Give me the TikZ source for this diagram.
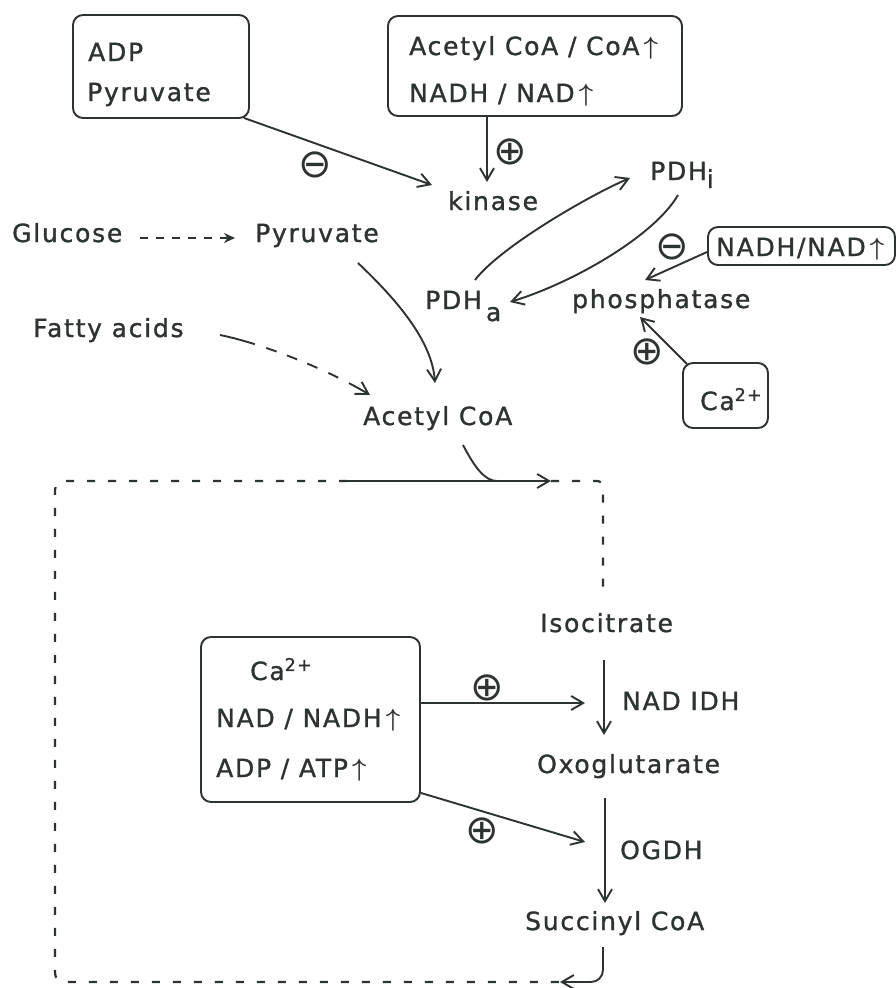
\documentclass[tikz,border=0pt]{standalone}
\usepackage{fontspec}
\setmainfont{DejaVu Sans}[LetterSpace=7, FakeBold=1.2]
\newfontfamily\signfont{DejaVu Sans}
\usetikzlibrary{arrows.meta}
\definecolor{ink}{RGB}{45,52,48}
\usepackage{amsmath}
\newcommand{\myup}{\,\raisebox{1pt}{$\boldsymbol{\uparrow}$}}
\begin{document}
\begin{tikzpicture}[x=1pt,y=-1pt,
  txt/.style={inner sep=0pt, anchor=base west, font=\fontsize{25}{28}\selectfont, text=ink},
  rbox/.style={draw=ink, rounded corners=10pt, inner sep=0pt, line width=1.9pt},
  arr/.style={draw=ink, line width=1.9pt, -{Straight Barb[length=12pt,width=14pt,line width=1.9pt]}},
  darr/.style={draw=ink, line width=2pt, dash pattern=on 8pt off 8pt, -{Stealth[length=11pt,width=10pt]}},
  plain/.style={draw=ink, line width=1.9pt},
  sign/.style={inner sep=0pt, font=\signfont\fontsize{40}{40}\selectfont, text=ink},
  cyc/.style={draw=ink, line width=2.2pt, dash pattern=on 8pt off 13pt}]
\useasboundingbox (0,0) rectangle (896,988);
\fill[white] (0,0) rectangle (896,988);

% boxes
\node[rbox, minimum width=176pt, minimum height=103pt] (b1) at (161,66.5) {};
\node[txt] (tadp) at (88,61) {ADP};
\node[txt] (tpyr) at (87,101) {Pyruvate};

\node[rbox, minimum width=294pt, minimum height=100pt] (b2) at (535,66) {};
\node[txt] (tacc) at (409,55) {Acetyl CoA / CoA\myup};
\node[txt] (tnad) at (409,102) {NADH / NAD\myup};

\node[rbox, minimum width=187pt, minimum height=38pt] (bn) at (801.5,246) {};
\node[txt] (tbn) at (716,256) {NADH/NAD\myup};

\node[rbox, minimum width=85pt, minimum height=65pt] (bca) at (725.5,395.5) {};
\node[txt] (tca) at (700,410) {Ca\textsuperscript{2+}};

\node[rbox, minimum width=219pt, minimum height=165pt] (bi) at (310.5,719.5) {};
\node[txt] (ica) at (250,680) {Ca\textsuperscript{2+}};
\node[txt] (inad) at (216,727) {NAD / NADH\myup};
\node[txt] (iadp) at (216,777) {ADP / ATP\myup};

% text nodes
\node[txt] (kinase) at (448,210) {kinase};
\node[txt] (PDHi) at (650,180) {PDH\raisebox{-8pt}{i}};
\node[txt] (PDHa) at (425,309) {PDH\,\raisebox{-12pt}{a}};
\node[txt] (glucose) at (12,242) {Glucose};
\node[txt] (pyr) at (255,242) {Pyruvate};
\node[txt] (fatty) at (33,337) {Fatty acids};
\node[txt] (acoa) at (363,425) {Acetyl CoA};
\node[txt] (phos) at (572,308) {phosphatase};
\node[txt] (iso) at (540,632) {Isocitrate};
\node[txt] (idh) at (622,710) {NAD IDH};
\node[txt] (oxo) at (537,773) {Oxoglutarate};
\node[txt] (ogdh) at (620,859) {OGDH};
\node[txt] (succ) at (525,930) {Succinyl CoA};

% signs
\node[sign] (s1) at (315,165) {⊖};
\node[sign] (s2) at (510,152) {⊕};
\node[sign] (s3) at (672,247) {⊖};
\node[sign] (s4) at (647,352) {⊕};
\node[sign] (s5) at (487,688) {⊕};
\node[sign] (s6) at (482,831) {⊕};

% top connectors
\draw[arr] ([shift={(-6,-1)}]b1.south east) -- ([shift={(-16,-25)}]kinase.base west);
\draw[arr] ([xshift=-48pt]b2.south) -- ([shift={(39,-28)}]kinase.base west);
\draw[arr] ([shift={(50,-29)}]PDHa.base west) .. controls (500,247) and (590,195) .. ([shift={(-20,-2)}]PDHi.base west);
\draw[arr] ([shift={(28,15)}]PDHi.base west) .. controls (655,235) and (575,282) .. ([shift={(85,-7)}]PDHa.base west);
\draw[arr] ([yshift=-6pt]bn.west) -- ([shift={(73,-28)}]phos.base west);
\draw[arr] ([shift={(5,2)}]bca.north west) -- ([shift={(68,9)}]phos.base west);
\draw[darr] ([shift={(128,-4)}]glucose.base west) -- ([shift={(-20,-4)}]pyr.base west);
\draw[arr] ([shift={(103,21)}]pyr.base west) .. controls (395,298) and (432,340) .. ([shift={(72,-42)}]acoa.base west);
\draw[arr, dash pattern=on 36pt off 12pt on 11pt off 11pt on 11pt off 11pt on 11pt off 12pt on 11pt off 12pt on 60pt]
  ([shift={(187,-2)}]fatty.base west) .. controls (260,343) and (325,368) .. ([shift={(7,-30)}]acoa.base west);

% cycle
\coordinate (c1) at (560,982);
\coordinate (c2) at (347,481);
\coordinate (c3) at (551,481);
\coordinate (cj) at (497,481);
\draw[cyc, rounded corners=9pt] (c2) -- (55,481) -- (55,982) -- (c1);
\draw[arr] (c2) -- (c3);
\draw[cyc, rounded corners=6pt] (c3) -- (603,481) -- ([shift={(63,-36)}]iso.base west);
\draw[plain] ([shift={(100,20)}]acoa.base west) .. controls (475,468) and (485,481) .. (cj);
\draw[arr, rounded corners=12pt] ([shift={(78,17)}]succ.base west) |- (c1);
\draw[arr] ([shift={(64,28)}]iso.base west) -- ([shift={(67,-38)}]oxo.base west);
\draw[arr] ([shift={(68,25)}]oxo.base west) -- ([shift={(80,-27)}]succ.base west);
\draw[arr] ([yshift=16.5pt]bi.east) -- ([shift={(45,71)}]iso.base west);
\draw[arr] ([yshift=10pt]bi.south east) -- ([shift={(48,69)}]oxo.base west);
\end{tikzpicture}
\end{document}
